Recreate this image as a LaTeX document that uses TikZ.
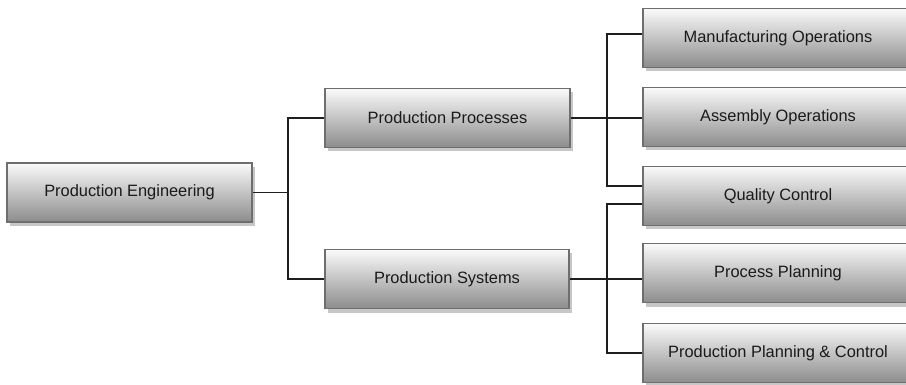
\documentclass[tikz,border=0pt]{standalone}
\usepackage{fontspec}
\setmainfont{Liberation Sans}
\usetikzlibrary{shadows,calc}
\definecolor{boxborder}{HTML}{6E6E6E}
\definecolor{wire}{HTML}{1E1E1E}
\definecolor{txt}{HTML}{1A1A1A}
\tikzset{
  gbox/.style={rectangle, draw=boxborder, line width=1.8pt, top color=black!2, bottom color=black!45,
    minimum height=59pt, inner sep=0pt, text=txt, font=\fontsize{16.4}{19}\selectfont,
    drop shadow={shadow xshift=3pt, shadow yshift=-4pt, fill=black!22, opacity=1}},
  wireline/.style={draw=wire, line width=1.8pt}
}
\begin{document}
\begin{tikzpicture}[x=1pt,y=-1pt]
\useasboundingbox (0,0) rectangle (906,385);
\clip (0,0) rectangle (906,385);
\fill[white] (0,0) rectangle (906,385);
% nodes
\node[gbox, minimum width=245pt] (pe) at (129.5,192.5) {Production Engineering};
\node[gbox, minimum width=245pt] (pp) at (447.5,118) {Production Processes};
\node[gbox, minimum width=244pt] (ps) at (447,279) {Production Systems};
\node[gbox, minimum width=270pt] (mo) at (778,38) {Manufacturing Operations};
\node[gbox, minimum width=270pt] (ao) at (778,117) {Assembly Operations};
\node[gbox, minimum width=270pt] (qc) at (778,196) {Quality Control};
\node[gbox, minimum width=270pt] (ppl) at (778,273) {Process Planning};
\node[gbox, minimum width=270pt] (ppc) at (778,353) {Production Planning \& Control};
% bus coordinates
\coordinate (b1) at (288,0);
\coordinate (b2) at (607,0);
% connectors level 1
\draw[wireline] (pe.east) -- (pe.east -| b1);
\draw[wireline] (pp.west) -| (b1 |- pe.east) |- (ps.west);
% connectors level 2, upper group
\draw[wireline] (pp.east) -- (pp.east -| ao.west);
\draw[wireline] ([yshift=4pt]mo.west) -| (b2 |- pp.east) |- ([yshift=10pt]qc.west);
% connectors level 2, lower group
\draw[wireline] (ps.east) -- (ps.east -| ppl.west);
\draw[wireline] ([yshift=-8pt]qc.west) -| (b2 |- ps.east) |- (ppc.west);
\end{tikzpicture}
\end{document}
